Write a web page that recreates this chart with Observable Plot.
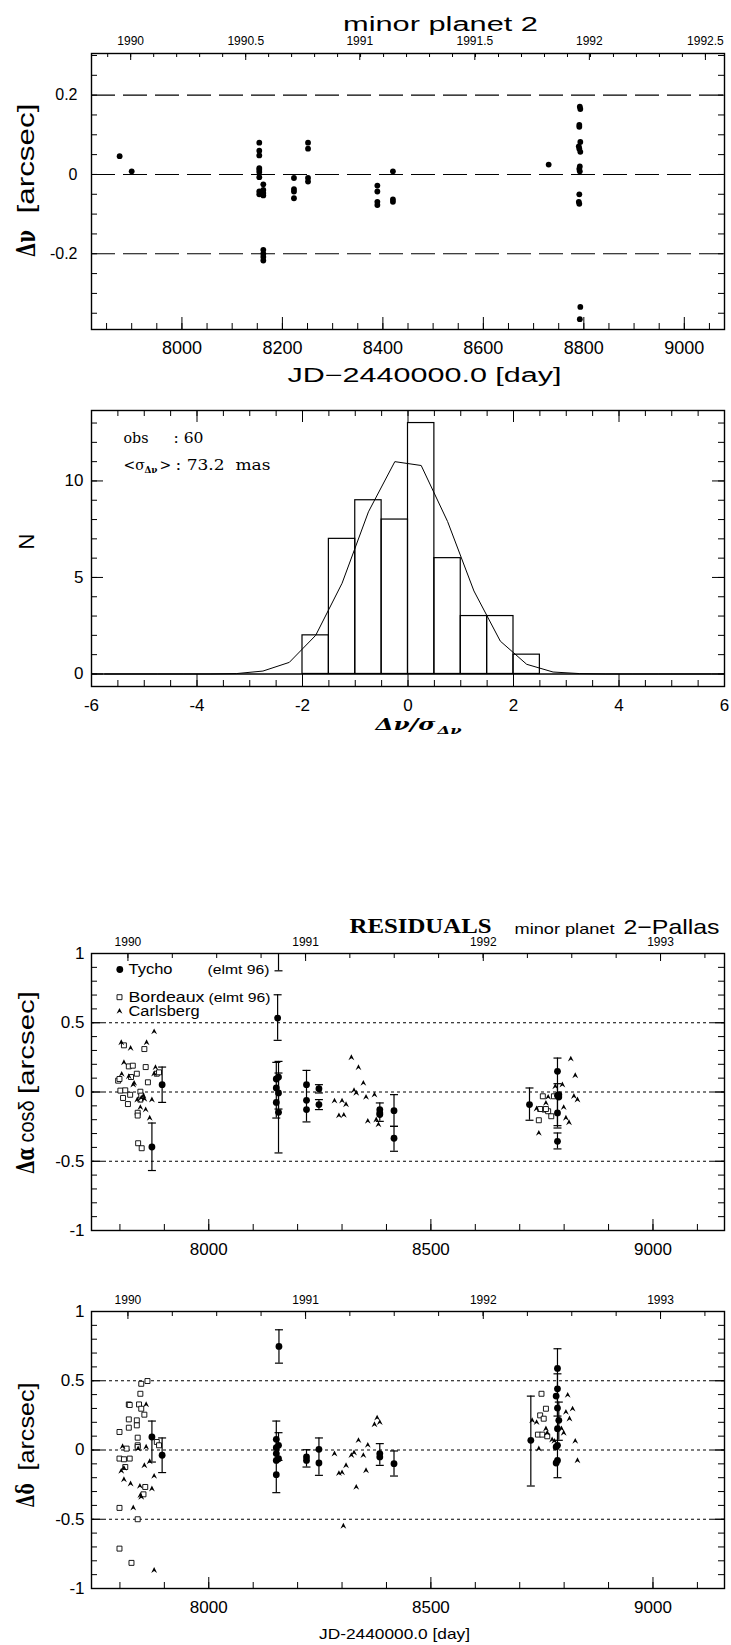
<!DOCTYPE html>
<html><head><meta charset="utf-8">
<script src="https://cdn.jsdelivr.net/npm/d3@7"></script>
<script src="https://cdn.jsdelivr.net/npm/@observablehq/plot@0.6"></script>
<style>
html,body{margin:0;padding:0;background:#fff;overflow:hidden;}
#root{position:relative;width:731px;height:1645px;overflow:hidden;background:#fff;}
#root svg{position:absolute;left:0;}
</style></head><body><div id="root"></div>
<script>
// ================= DATA =================
// Panel 1: Δν residuals vs JD-2440000
const p1Day = [7876, 7900,
  8154,8154,8154,8154,8154,8154,8154,8154,8154,
  8162,8162,8162,8162,8162,8162,8162,8162,
  8223,8223,8223,8223,
  8251,8251,8251,8251,
  8389,8389,8389,8389,
  8420,8420,8420,
  8730,
  8792,8793,8791,8791,8793,8790,8791,8793,8792,8791,8792,8791,8790,8791,8793,8792];
const p1Res = [0.046, 0.008,
  0.080,0.060,0.048,0.016,0.012,0.006,-0.007,-0.043,-0.050,
  -0.025,-0.039,-0.047,-0.053,-0.190,-0.200,-0.208,-0.217,
  -0.009,-0.037,-0.043,-0.060,
  0.080,0.065,-0.009,-0.018,
  -0.028,-0.043,-0.069,-0.077,
  0.008,-0.063,-0.069,
  0.025,
  0.171,0.165,0.125,0.120,0.082,0.071,0.065,0.057,0.020,0.014,0.008,-0.050,-0.069,-0.074,-0.334,-0.365];
const p1Levels = [0.2, 0, -0.2];
const p1XTicks = [8000, 8200, 8400, 8600, 8800, 9000];
const p1YTicks = [0.2, 0, -0.2];
const p1YLabels = ["0.2", "0", "-0.2"];
const p1Years = ["1990", "1990.5", "1991", "1991.5", "1992", "1992.5"];
const p1YearDays = [7898, 8127, 8354, 8583, 8811, 9042];

// Panel 2: histogram of normalised residuals + gaussian
const histLo = [-2, -1.5, -1, -0.5, 0, 0.5, 1, 1.5, 2];
const histHi = [-1.5, -1, -0.5, 0, 0.5, 1, 1.5, 2, 2.5];
const histN  = [2, 7, 9, 8, 13, 6, 3, 3, 1];
const gaussX = [-5.75,-5.25,-4.75,-4.25,-3.75,-3.25,-2.75,-2.25,-1.75,-1.25,-0.75,-0.25,0.25,0.75,1.25,1.75,2.25,2.75,3.25,3.75,4.25,4.75,5.25,5.75];
const gaussN = [0,0,0,0,0,0.02,0.15,0.6,2.0,4.7,8.4,11.0,10.8,7.9,4.3,1.7,0.5,0.1,0.02,0,0,0,0,0];
const p2XTicks = [-6, -4, -2, 0, 2, 4, 6];
const p2YTicks = [0, 5, 10];

// Panel 3: Δα cosδ
const t3Day = [7872,7895,8155,8152,8157,8152,8157,8152,8157,8157,8220,8220,8220,8248,8248,8385,8385,8385,8417,8417,8722,8785,8785,8788,8785,8785,8788];
const t3Val = [-0.397,0.053,0.534,0.094,0.108,0.029,-0.007,-0.075,-0.147,1.10,0.053,-0.060,-0.127,0.024,-0.091,-0.127,-0.151,-0.163,-0.135,-0.334,-0.091,0.149,-0.026,-0.036,-0.151,-0.356,-0.019];
const e3Day = [7872,7895,8155,8152,8157,8157,8157,8220,8248,8248,8385,8417,8417,8722,8785,8785,8785];
const e3Lo  = [-0.567,-0.075,0.373,-0.188,-0.440,-0.123,0.875,-0.216,-0.007,-0.127,-0.212,-0.248,-0.428,-0.204,-0.260,-0.243,-0.411];
const e3Hi  = [-0.224,0.180,0.702,0.214,0.221,0.137,1.250,0.156,0.053,-0.055,-0.079,-0.019,-0.248,0.029,0.245,0.060,-0.296];
const b3Day = [7796,7799,7801,7807,7809,7812,7818,7820,7823,7825,7829,7838,7840,7840,7841,7846,7846,7848,7849,7855,7858,7863,7883,7888,
  8743,8752,8756,8764,8746,8771,8759,8777];
const b3Val = [0.082,0.094,0.010,-0.043,0.337,0.012,-0.087,0.185,-0.020,0.108,0.190,0.132,-0.150,-0.170,-0.370,0.002,-0.055,-0.026,-0.406,0.310,0.180,0.070,0.132,0.142,
  -0.204,-0.031,-0.127,-0.139,-0.123,-0.175,-0.123,-0.031];
const c3Day = [7803,7809,7804,7824,7820,7830,7832,7839,7846,7848,7853,7858,7860,7867,7872,7877,7880,7877,7855,
  8283,8293,8300,8304,8309,8321,8327,8332,8337,8348,8354,8358,8373,8377,8382,
  8743,8738,8759,8764,8780,8796,8799,8804,8811,8815,8825,8822,8830,8785];
const c3Val = [0.358,0.214,0.130,0.317,0.113,0.053,0.065,-0.055,-0.110,-0.043,-0.026,-0.127,0.358,-0.187,-0.055,0.437,0.178,0.132,-0.050,
  -0.063,-0.170,-0.063,-0.166,-0.090,0.250,0.012,-0.007,0.178,0.065,-0.036,-0.210,-0.020,-0.200,-0.235,
  -0.296,-0.120,-0.080,-0.036,0.040,0.053,-0.110,-0.187,-0.220,0.240,0.120,-0.030,-0.055,-0.150];

// Panel 4: Δδ
const t4Day = [7872,7895,8158,8152,8157,8152,8152,8157,8152,8152,8220,8220,8248,8248,8385,8385,8417,8725,8785,8785,8782,8785,8788,8785,8785,8782,8785,8782];
const t4Val = [0.094,-0.038,0.748,0.077,0.034,0.017,-0.026,-0.063,-0.075,-0.178,-0.050,-0.075,0.005,-0.094,-0.026,-0.050,-0.099,0.070,0.589,0.442,0.389,0.303,0.214,0.154,0.034,0.022,-0.075,-0.094];
const e4Day = [7872,7895,8158,8152,8157,8220,8248,8385,8417,8725,8785,8785,8788];
const e4Lo  = [-0.087,-0.163,0.627,-0.308,-0.075,-0.123,-0.183,-0.111,-0.188,-0.260,-0.200,0.245,0.070];
const e4Hi  = [0.209,0.087,0.868,0.209,0.125,0.002,0.087,0.046,-0.007,0.389,0.731,0.550,0.346];
const b4Day = [7799,7799,7799,7799,7809,7812,7815,7820,7822,7820,7820,7822,7826,7838,7838,7840,7840,7840,7840,7843,7846,7848,7848,7855,7862,7857,7853,7883,7888,
  8741,8749,8746,8751,8754,8759,8762];
const b4Val = [0.130,-0.062,-0.418,-0.712,-0.067,-0.123,0.010,0.329,0.325,0.221,0.161,-0.062,-0.815,0.214,0.178,0.089,0.034,0.022,-0.500,0.329,0.406,0.298,0.478,0.255,0.498,-0.267,-0.320,0.058,0.034,
  0.111,0.406,0.250,0.111,0.226,0.298,0.099];
const c4Day = [7803,7806,7809,7809,7824,7830,7841,7845,7846,7848,7855,7859,7859,7867,7872,7877,7877,
  8283,8293,8300,8309,8321,8327,8332,8337,8348,8354,8358,8373,8379,8385,8303,
  8728,8738,8743,8759,8762,8773,8778,8794,8799,8808,8804,8812,8819,8825,8830];
const c4Val = [-0.151,0.026,-0.130,-0.212,-0.243,-0.416,0.010,-0.260,-0.327,-0.339,-0.111,0.329,0.022,-0.082,-0.279,-0.188,-0.868,
  -0.026,-0.168,-0.163,-0.111,-0.038,-0.019,-0.267,0.070,-0.038,-0.147,0.036,0.185,0.233,0.200,-0.548,
  0.214,0.200,0.010,0.154,0.123,0.075,0.065,0.154,0.123,0.397,0.274,0.226,0.298,0.065,-0.075];

const levels34 = [0.5, 0, -0.5];
const p34XTicks = [8000, 8500, 9000];
const p34YTicks = [1, 0.5, 0, -0.5, -1];
const p34YLabels = ["1", "0.5", "0", "-0.5", "-1"];
const p34Years = ["1990", "1991", "1992", "1993"];
const p34YearDays = [7818, 8218, 8618, 9017];

// ================= HELPERS =================
const SANS = "'Liberation Sans', Arial, Helvetica, sans-serif";
const DSERIF = "'DejaVu Serif', 'Liberation Serif', serif";
const W = 731, FL = 91, FR = 724;
const root = document.getElementById("root");

function panel(top, height, frameTop, frameBottom) {
  const P = {top, height, frameTop, frameBottom};
  P.m = {top: frameTop - top, bottom: top + height - frameBottom, left: FL, right: W - FR};
  P.fh = frameBottom - frameTop; P.fw = FR - FL;
  return P;
}
function txt(P, str, x, y, o = {}) {
  return Plot.text([str], {
    text: d => d, frameAnchor: "top-left",
    dx: x - P.m.left, dy: y - P.top - P.m.top,
    textAnchor: o.anchor || "start", lineAnchor: o.line || "bottom",
    fontSize: o.size || 14, fontFamily: o.family || SANS,
    fontWeight: o.weight || "normal", fontStyle: o.style || "normal",
    rotate: o.rotate || 0, fill: "black"
  });
}
function inDom(vals, dom) { return vals.filter(v => v > Math.min(...dom) + 1e-9 && v < Math.max(...dom) - 1e-9); }
function tickMarks(P, xDom, yDom, spec) {
  const out = [];
  for (const [vals, len] of spec.bottom || []) out.push(Plot.tickX(inDom(vals, xDom), {x: d => d, insetTop: P.fh - len, strokeWidth: 1}));
  for (const [vals, len] of spec.top || []) out.push(Plot.tickX(inDom(vals, xDom), {x: d => d, insetBottom: P.fh - len, strokeWidth: 1}));
  for (const [vals, len] of spec.left || []) out.push(Plot.tickY(inDom(vals, yDom), {y: d => d, insetRight: P.fw - len, strokeWidth: 1}));
  for (const [vals, len] of spec.right || []) out.push(Plot.tickY(inDom(vals, yDom), {y: d => d, insetLeft: P.fw - len, strokeWidth: 1}));
  return out;
}
function subdivide(majors, n, dom) {
  const step = (majors[majors.length - 1] - majors[0]) / ((majors.length - 1) * n);
  const out = [];
  for (let v = majors[0]; v >= dom[0]; v -= step) out.push(v);
  for (let v = majors[0] + step; v <= dom[1]; v += step) out.push(v);
  return out;
}
// fits: [string, length, occurrence (optional; default = all)]
function render(P, xDom, yDom, marks, fits = []) {
  const svg = Plot.plot({
    width: W, height: P.height,
    marginTop: P.m.top, marginBottom: P.m.bottom, marginLeft: P.m.left, marginRight: P.m.right,
    x: {domain: xDom, axis: null}, y: {domain: yDom, axis: null},
    style: {background: "white", color: "black", fontFamily: SANS, overflow: "visible"},
    marks
  });
  svg.style.position = "absolute"; svg.style.left = "0px"; svg.style.top = P.top + "px";
  const sel = d3.select(svg);
  for (const [s, len, nth] of fits) {
    sel.selectAll("text").filter(function () { return this.textContent === s; })
      .filter((d, i) => nth === undefined || i === nth)
      .attr("textLength", len).attr("lengthAdjust", "spacingAndGlyphs");
  }
  root.appendChild(svg);
}
const capSym = {draw(ctx) { ctx.moveTo(-4, 0); ctx.lineTo(4, 0); }};
const carlSym = {draw(ctx, size) {
  const r = Math.sqrt(size / Math.PI);
  ctx.moveTo(0, -r); ctx.lineTo(r * 0.95, r * 0.9); ctx.lineTo(0, r * 0.25); ctx.lineTo(-r * 0.95, r * 0.9); ctx.closePath();
}};

// ================= PANEL 1 =================
{
  const P = panel(0, 390, 53, 329);
  const xDom = [7820, 9080], yDom = [-0.391, 0.305];
  const pts = p1Day.map((d, i) => ({day: d, res: p1Res[i]}));
  render(P, xDom, yDom, [
    Plot.ruleY(p1Levels, {y: d => d, strokeDasharray: "24,8", strokeWidth: 1.1}),
    ...tickMarks(P, xDom, yDom, {
      bottom: [[d3.range(7850, 9080, 50), 6], [p1XTicks, 12]],
      top: [[subdivide(p1YearDays, 5, xDom), 4], [p1YearDays, 7]],
      left: [[d3.range(-0.35, 0.3001, 0.05), 6]],
      right: [[d3.range(-0.35, 0.3001, 0.05), 6]]
    }),
    Plot.frame({strokeWidth: 1.4}),
    Plot.dot(pts, {x: "day", y: "res", r: 2.9, fill: "black", clip: true}),
    Plot.text(p1XTicks, {x: d => d, text: d => String(d), frameAnchor: "bottom", dy: 19, lineAnchor: "middle", fontSize: 18}),
    Plot.text(p1YTicks, {y: d => d, text: (d, i) => p1YLabels[i], frameAnchor: "left", dx: -14, textAnchor: "end", lineAnchor: "middle", fontSize: 16}),
    Plot.text(p1Years, {x: (d, i) => p1YearDays[i], text: d => d, frameAnchor: "top", dy: -12, lineAnchor: "middle", fontSize: 12}),
    txt(P, "minor planet 2", 440, 30, {anchor: "middle", size: 20}),
    txt(P, "JD−2440000.0 [day]", 424, 381, {anchor: "middle", size: 20}),
    txt(P, "[arcsec]", 26, 158, {anchor: "middle", line: "middle", rotate: -90, size: 24}),
    txt(P, "Δν", 26, 243, {anchor: "middle", line: "middle", rotate: -90, size: 26, weight: "bold", family: DSERIF})
  ], [["minor planet 2", 195], ["JD−2440000.0 [day]", 274], ["[arcsec]", 110], ["Δν", 27]]);
}

// ================= PANEL 2 =================
{
  const P = panel(390, 360, 410, 686);
  const xDom = [-6, 6], yDom = [-0.65, 13.65];
  const hist = histLo.map((lo, i) => ({lo, hi: histHi[i], n: histN[i]}));
  const gauss = gaussX.map((x, i) => ({x, n: gaussN[i]}));
  render(P, xDom, yDom, [
    Plot.ruleY([0], {y: d => d, strokeWidth: 1.6}),
    Plot.rect(hist, {x1: "lo", x2: "hi", y1: 0, y2: "n", stroke: "black", fill: "none", strokeWidth: 1.2}),
    Plot.line(gauss, {x: "x", y: "n", strokeWidth: 1}),
    ...tickMarks(P, xDom, yDom, {
      bottom: [[d3.range(-5.5, 6, 0.5), 6], [[-4, -2, 0, 2, 4], 12]],
      top: [[d3.range(-5.5, 6, 0.5), 6], [[-4, -2, 0, 2, 4], 12]],
      left: [[d3.range(0, 14, 1), 6], [[0, 5, 10], 12]],
      right: [[d3.range(0, 14, 1), 6], [[0, 5, 10], 12]]
    }),
    Plot.frame({strokeWidth: 1.4}),
    Plot.text(p2XTicks, {x: d => d, text: d => String(d), frameAnchor: "bottom", dy: 19, lineAnchor: "middle", fontSize: 17}),
    Plot.text(p2YTicks, {y: d => d, text: d => String(d), frameAnchor: "left", dx: -8, textAnchor: "end", lineAnchor: "middle", fontSize: 17}),
    txt(P, "N", 26, 541, {anchor: "middle", line: "middle", rotate: -90, size: 22}),
    txt(P, "obs", 123, 442, {size: 14, family: DSERIF}),
    txt(P, ": 60", 173, 442, {size: 14, family: DSERIF}),
    txt(P, "<σ", 123, 469, {size: 14, family: DSERIF}),
    txt(P, "Δν", 144, 472, {size: 9, family: DSERIF, weight: "bold"}),
    txt(P, ">", 159, 469, {size: 14, family: DSERIF}),
    txt(P, ": 73.2  mas", 175, 469, {size: 14, family: DSERIF}),
    txt(P, "Δν/σ", 375, 729, {size: 17, family: DSERIF, weight: "bold", style: "italic"}),
    txt(P, "Δν", 437, 733, {size: 11, family: DSERIF, weight: "bold", style: "italic"})
  ], [["obs", 25], [": 60", 30], [": 73.2  mas", 95], ["Δν/σ", 60], ["Δν", 13, 0], ["Δν", 24, 1]]);
}

// ================= PANEL 3 / 4 shared =================
function residualPanel(P, tDay, tVal, eDay, eLo, eHi, bDay, bVal, cDay, cVal, extra, fits) {
  const xDom = [7736, 9161], yDom = [-1, 1];
  const T = tDay.map((d, i) => ({day: d, v: tVal[i]}));
  const E = eDay.map((d, i) => ({day: d, lo: eLo[i], hi: eHi[i]}));
  const B = bDay.map((d, i) => ({day: d, v: bVal[i]}));
  const C = cDay.map((d, i) => ({day: d, v: cVal[i]}));
  render(P, xDom, yDom, [
    Plot.ruleY(levels34, {y: d => d, strokeDasharray: "3,3", strokeWidth: 1.1}),
    ...tickMarks(P, xDom, yDom, {
      bottom: [[d3.range(7800, 9161, 100), 6], [p34XTicks, 11]],
      top: [[subdivide(p34YearDays, 4, xDom), 5], [p34YearDays, 8]],
      left: [[d3.range(-0.9, 0.95, 0.1), 6], [[-0.5, 0, 0.5], 12]],
      right: [[d3.range(-0.9, 0.95, 0.1), 6], [[-0.5, 0, 0.5], 12]]
    }),
    Plot.frame({strokeWidth: 1.4}),
    Plot.dot(B, {x: "day", y: "v", symbol: "square", r: 2.8, fill: "white", stroke: "black", strokeWidth: 0.9, clip: true}),
    Plot.dot(C, {x: "day", y: "v", symbol: carlSym, r: 3.1, fill: "black", clip: true}),
    Plot.ruleX(E, {x: "day", y1: "lo", y2: "hi", strokeWidth: 1.2, clip: true}),
    Plot.dot(E, {x: "day", y: "lo", symbol: capSym, stroke: "black", strokeWidth: 1.2, clip: true}),
    Plot.dot(E, {x: "day", y: "hi", symbol: capSym, stroke: "black", strokeWidth: 1.2, clip: true}),
    Plot.dot(T, {x: "day", y: "v", r: 3.4, fill: "black", clip: true}),
    Plot.text(p34XTicks, {x: d => d, text: d => String(d), frameAnchor: "bottom", dy: 19, lineAnchor: "middle", fontSize: 17}),
    Plot.text(p34YTicks, {y: d => d, text: (d, i) => p34YLabels[i], frameAnchor: "left", dx: -7, textAnchor: "end", lineAnchor: "middle", fontSize: 17}),
    Plot.text(p34Years, {x: (d, i) => p34YearDays[i], text: d => d, frameAnchor: "top", dy: -11, lineAnchor: "middle", fontSize: 12}),
    ...extra
  ], fits);
}

{
  const P = panel(880, 390, 953, 1230);
  const rel = (x, y) => ({dx: x - P.m.left, dy: y - P.top - P.m.top});
  residualPanel(P, t3Day, t3Val, e3Day, e3Lo, e3Hi, b3Day, b3Val, c3Day, c3Val, [
    txt(P, "RESIDUALS", 420, 932, {anchor: "middle", size: 22, weight: "bold", family: "'Liberation Serif', serif"}),
    txt(P, "minor planet", 514, 933, {size: 15}),
    txt(P, "2−Pallas", 623, 933, {size: 21}),
    Plot.dot([0], {frameAnchor: "top-left", ...rel(119.3, 969), r: 3.4, fill: "black"}),
    Plot.dot([0], {frameAnchor: "top-left", ...rel(119, 996.7), symbol: "square", r: 2.8, fill: "white", stroke: "black", strokeWidth: 0.9}),
    Plot.dot([0], {frameAnchor: "top-left", ...rel(119, 1010.5), symbol: carlSym, r: 3.1, fill: "black"}),
    txt(P, "Tycho", 128, 973.5, {size: 14}),
    txt(P, "(elmt 96)", 207, 973.5, {size: 13}),
    txt(P, "Bordeaux", 128, 1001.5, {size: 14}),
    txt(P, "(elmt 96)", 208, 1001.5, {size: 13}),
    txt(P, "Carlsberg", 128, 1015.5, {size: 14}),
    txt(P, "[arcsec]", 26, 1042, {anchor: "middle", line: "middle", rotate: -90, size: 22}),
    txt(P, "cosδ", 26, 1121, {anchor: "middle", line: "middle", rotate: -90, size: 22}),
    txt(P, "Δα", 26, 1160, {anchor: "middle", line: "middle", rotate: -90, size: 24, weight: "bold", family: DSERIF})
  ], [["RESIDUALS", 142], ["minor planet", 100], ["2−Pallas", 96], ["Tycho", 44], ["(elmt 96)", 62], ["Bordeaux", 76], ["Carlsberg", 71], ["[arcsec]", 103], ["cosδ", 42], ["Δα", 27]]);
}

{
  const P = panel(1270, 375, 1311, 1588);
  residualPanel(P, t4Day, t4Val, e4Day, e4Lo, e4Hi, b4Day, b4Val, c4Day, c4Val, [
    txt(P, "JD-2440000.0 [day]", 394, 1638, {anchor: "middle", size: 15}),
    txt(P, "[arcsec]", 26, 1426, {anchor: "middle", line: "middle", rotate: -90, size: 22}),
    txt(P, "Δδ", 26, 1495, {anchor: "middle", line: "middle", rotate: -90, size: 24, weight: "bold", family: DSERIF})
  ], [["JD-2440000.0 [day]", 151], ["[arcsec]", 88], ["Δδ", 24]]);
}
</script></body></html>
